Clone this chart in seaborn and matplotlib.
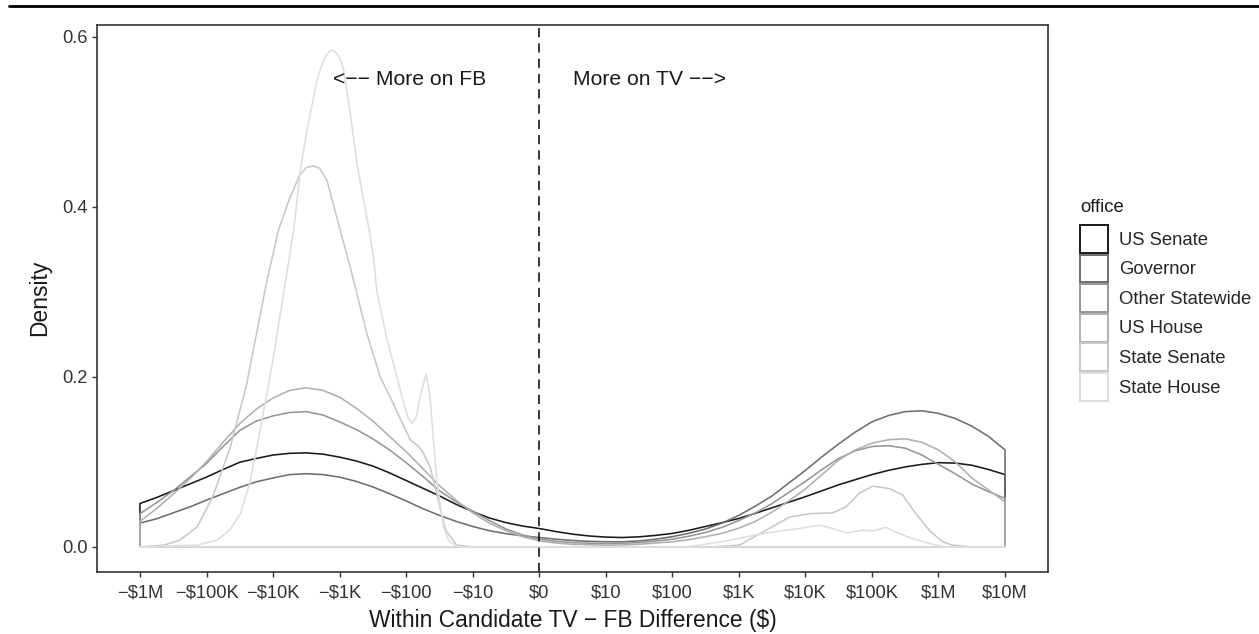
import numpy as np
import pandas as pd
import matplotlib
matplotlib.use("Agg")
import matplotlib.pyplot as plt
import seaborn as sns
from matplotlib.patches import Patch
from matplotlib.lines import Line2D

# ---------------- data (x in pseudo-log tick units: -6 = -$1M ... 0 = $0 ... 7 = $10M)
offices = ["US Senate", "Governor", "Other Statewide", "US House", "State Senate", "State House"]
colors = ["#1a1a1a", "#6e6e6e", "#969696", "#b0b0b0", "#c8c8c8", "#dedede"]

tick_pos = [-6, -5, -4, -3, -2, -1, 0, 1, 2, 3, 4, 5, 6, 7]
tick_labels = ["−\\$1M", "−\\$100K", "−\\$10K", "−\\$1K", "−\\$100", "−\\$10", "\\$0",
               "\\$10", "\\$100", "\\$1K", "\\$10K", "\\$100K", "\\$1M", "\\$10M"]

x_broad = [-6, -5.75, -5.5, -5.25, -5, -4.75, -4.5, -4.25, -4, -3.75, -3.5, -3.25, -3, -2.75,
           -2.5, -2.25, -2, -1.75, -1.5, -1.25, -1, -0.75, -0.5, -0.25, 0, 0.25, 0.5, 0.75,
           1, 1.25, 1.5, 1.75, 2, 2.25, 2.5, 2.75, 3, 3.25, 3.5, 3.75, 4, 4.25, 4.5, 4.75,
           5, 5.25, 5.5, 5.75, 6, 6.25, 6.5, 6.75, 7]
us_senate = [0.051, 0.058, 0.066, 0.074, 0.082, 0.091, 0.0995, 0.104, 0.108, 0.110, 0.1105, 0.109, 0.1055, 0.101,
             0.095, 0.087, 0.078, 0.069, 0.060, 0.050, 0.0415, 0.034, 0.0285, 0.0245, 0.0216, 0.018, 0.015, 0.0128,
             0.0115, 0.011, 0.0118, 0.0135, 0.0158, 0.0195, 0.024, 0.0285, 0.0334, 0.0395, 0.046, 0.0525, 0.059, 0.066, 0.073, 0.079,
             0.085, 0.090, 0.094, 0.097, 0.099, 0.0985, 0.096, 0.091, 0.085]
governor = [0.028, 0.033, 0.040, 0.047, 0.055, 0.0625, 0.070, 0.0765, 0.081, 0.085, 0.086, 0.085, 0.082, 0.077,
            0.0705, 0.0625, 0.054, 0.045, 0.037, 0.030, 0.024, 0.019, 0.0155, 0.013, 0.011, 0.009, 0.0075, 0.0065,
            0.006, 0.006, 0.007, 0.009, 0.012, 0.016, 0.021, 0.028, 0.037, 0.048, 0.060, 0.075, 0.090, 0.106, 0.121, 0.135,
            0.147, 0.1545, 0.159, 0.160, 0.157, 0.151, 0.142, 0.130, 0.114]
other_statewide = [0.039, 0.052, 0.066, 0.082, 0.098, 0.118, 0.137, 0.148, 0.154, 0.158, 0.159, 0.155, 0.147, 0.138,
                   0.127, 0.114, 0.099, 0.083, 0.066, 0.053, 0.042, 0.031, 0.021, 0.014, 0.009, 0.0065, 0.005, 0.0043,
                   0.004, 0.0043, 0.005, 0.0068, 0.009, 0.0125, 0.017, 0.023, 0.031, 0.040, 0.051, 0.064, 0.077, 0.091, 0.104, 0.113,
                   0.118, 0.119, 0.116, 0.108, 0.097, 0.086, 0.074, 0.065, 0.057]
us_house = [0.030, 0.045, 0.062, 0.080, 0.100, 0.123, 0.145, 0.162, 0.175, 0.184, 0.187, 0.184, 0.176, 0.163,
            0.148, 0.130, 0.112, 0.092, 0.072, 0.055, 0.040, 0.028, 0.019, 0.012, 0.007, 0.0045, 0.003, 0.0025,
            0.002, 0.0023, 0.003, 0.0045, 0.006, 0.0085, 0.012, 0.016, 0.022, 0.030, 0.041, 0.054, 0.068, 0.085, 0.102, 0.114,
            0.122, 0.126, 0.127, 0.123, 0.114, 0.100, 0.081, 0.067, 0.053]

x_state_senate = [-6, -5.64, -5.4, -5.14, -4.9, -4.64, -4.4, -4.1, -3.92, -3.76, -3.6, -3.5, -3.39, -3.3, -3.19,
                  -2.99, -2.84, -2.59, -2.39, -2.24, -1.94, -1.81, -1.74, -1.64, -1.54, -1.41, -1.24, -1.0,
                  2.6, 3.01, 3.41, 3.76, 4.06, 4.41, 4.61, 4.81, 5.01, 5.26, 5.46, 5.66, 5.86, 6.06, 6.21, 6.5, 7]
state_senate = [0, 0.002, 0.008, 0.0235, 0.06, 0.118, 0.19, 0.31, 0.372, 0.408, 0.437, 0.446, 0.448, 0.445, 0.431,
                0.372, 0.329, 0.251, 0.2, 0.176, 0.126, 0.118, 0.110, 0.094, 0.063, 0.02, 0.002, 0,
                0, 0.002, 0.0196, 0.035, 0.039, 0.040, 0.047, 0.063, 0.0714, 0.0686, 0.061, 0.039, 0.0196, 0.006, 0.002, 0, 0]

x_state_house = [-6, -5.14, -4.84, -4.65, -4.49, -4.35, -4.24, -4.11, -4.0, -3.81, -3.69, -3.59, -3.49, -3.34,
                 -3.26, -3.2, -3.15, -3.11, -3.07, -3.02, -2.98, -2.94, -2.84, -2.74, -2.64, -2.55, -2.49, -2.44,
                 -2.29, -2.14, -2.04, -1.97, -1.91, -1.85, -1.78, -1.70, -1.64, -1.59, -1.54, -1.44, -1.35, -1.2,
                 2.2, 2.41, 2.81, 3.16, 3.51, 3.91, 4.21, 4.41, 4.61, 4.86, 5.01, 5.21, 5.41, 5.61, 5.91, 6.1, 7]
state_house = [0, 0.002, 0.008, 0.02, 0.039, 0.075, 0.118, 0.173, 0.22, 0.314, 0.372, 0.443, 0.490, 0.549,
               0.568, 0.578, 0.583, 0.584, 0.582, 0.578, 0.571, 0.561, 0.510, 0.451, 0.408, 0.37, 0.341, 0.30,
               0.245, 0.2, 0.17, 0.152, 0.145, 0.152, 0.18, 0.203, 0.176, 0.125, 0.078, 0.0235, 0.006, 0,
               0, 0.002, 0.007, 0.0126, 0.0176, 0.0216, 0.0255, 0.0216, 0.0165, 0.0196, 0.0188, 0.0228, 0.0157, 0.0098, 0.003, 0, 0]

curves = {
    "US Senate": (x_broad, us_senate),
    "Governor": (x_broad, governor),
    "Other Statewide": (x_broad, other_statewide),
    "US House": (x_broad, us_house),
    "State Senate": (x_state_senate, state_senate),
    "State House": (x_state_house, state_house),
}

rows = []
for off in offices:
    xs, ys = curves[off]
    # closed outline like ggplot geom_density: baseline + vertical ends
    px = [xs[0]] + list(xs) + [xs[-1], xs[0]]
    py = [0.0] + list(ys) + [0.0, 0.0]
    for a, b in zip(px, py):
        rows.append({"office": off, "x": a, "y": b})
df = pd.DataFrame(rows)

# ---------------- plot
sns.set_theme(style="white")
plt.rcParams["font.family"] = ["Liberation Sans", "DejaVu Sans"]

W, H = 1259, 634
fig = plt.figure(figsize=(W / 100, H / 100), dpi=100)
ax = fig.add_axes([96.7 / W, 1 - 571.7 / H, (1048.3 - 96.7) / W, (571.7 - 25) / H])

sns.lineplot(data=df, x="x", y="y", hue="office", hue_order=offices, palette=colors,
             estimator=None, sort=False, legend=False, linewidth=1.15, ax=ax)

ax.axvline(0, color="black", linestyle=(0, (6, 4)), linewidth=1.1)

ax.text(-3.1, 0.549, "<−− More on FB", ha="left", va="center", fontsize=15.2, color="#1a1a1a")
ax.text(0.51, 0.549, "More on TV −−>", ha="left", va="center", fontsize=15.2, color="#1a1a1a")

ax.set_xlim(-6.65, 7.65)
ax.set_ylim(-0.0292, 0.6136)
ax.set_xticks(tick_pos)
ax.set_xticklabels(tick_labels)
ax.set_yticks([0.0, 0.2, 0.4, 0.6])
ax.set_yticklabels(["0.0", "0.2", "0.4", "0.6"])
ax.tick_params(axis="both", direction="out", length=3.7, width=1, color="#333333",
               labelsize=13.2, labelcolor="#333333", pad=3, bottom=True, left=True)
ax.tick_params(axis="x", pad=5.8, bottom=True)
for s in ax.spines.values():
    s.set_color("#333333")
    s.set_linewidth(1.2)
ax.grid(False)
ax.set_xlabel("Within Candidate TV − FB Difference (\\$)", fontsize=16.4, color="#1a1a1a", labelpad=5)
ax.set_ylabel("Density", fontsize=16.4, color="#1a1a1a", labelpad=8)

# legend (title as separate text, ggplot-like square keys)
fig.text(1080 / W, 1 - 207 / H, "office", ha="left", va="center", fontsize=13.3, color="#1a1a1a")
handles = [Patch(facecolor="white", edgecolor=c, linewidth=1.4) for c in colors]
leg = fig.legend(handles, offices, loc="upper left",
                 bbox_to_anchor=(1080 / W, 1 - 225 / H), frameon=False,
                 fontsize=13.3, handlelength=1.51, handleheight=1.946,
                 labelspacing=0.09, handletextpad=0.6, borderpad=0, borderaxespad=0)

fig.add_artist(Line2D([9 / W, 1], [1 - 5.7 / H, 1 - 5.7 / H], transform=fig.transFigure,
                      color="black", linewidth=2))

fig.savefig("out.png", dpi=100)
